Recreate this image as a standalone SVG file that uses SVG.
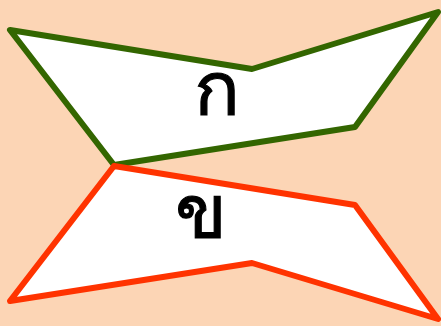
<svg xmlns="http://www.w3.org/2000/svg" width="441" height="326" viewBox="0 0 441 326">
<style>
.shape{fill:#fff;stroke-width:6;stroke-linejoin:round}
.lbl{font-family:"Noto Sans","DejaVu Sans",sans-serif;font-size:76px;fill:#000;stroke:#000;stroke-width:1.2;text-anchor:middle}
</style>
<rect width="441" height="326" fill="#fcd5b5"/>
<g id="top">
<polygon class="shape" stroke="#336600" points="10,30 252,69 438,12 355,127 114,165"/>
<text class="lbl" x="217" y="115">ก</text>
</g>
<g id="bottom">
<polygon class="shape" stroke="#ff3300" points="114,166 355,205 438,319 252,263 10,301"/>
<text class="lbl" x="201" y="238">ข</text>
</g>
</svg>
